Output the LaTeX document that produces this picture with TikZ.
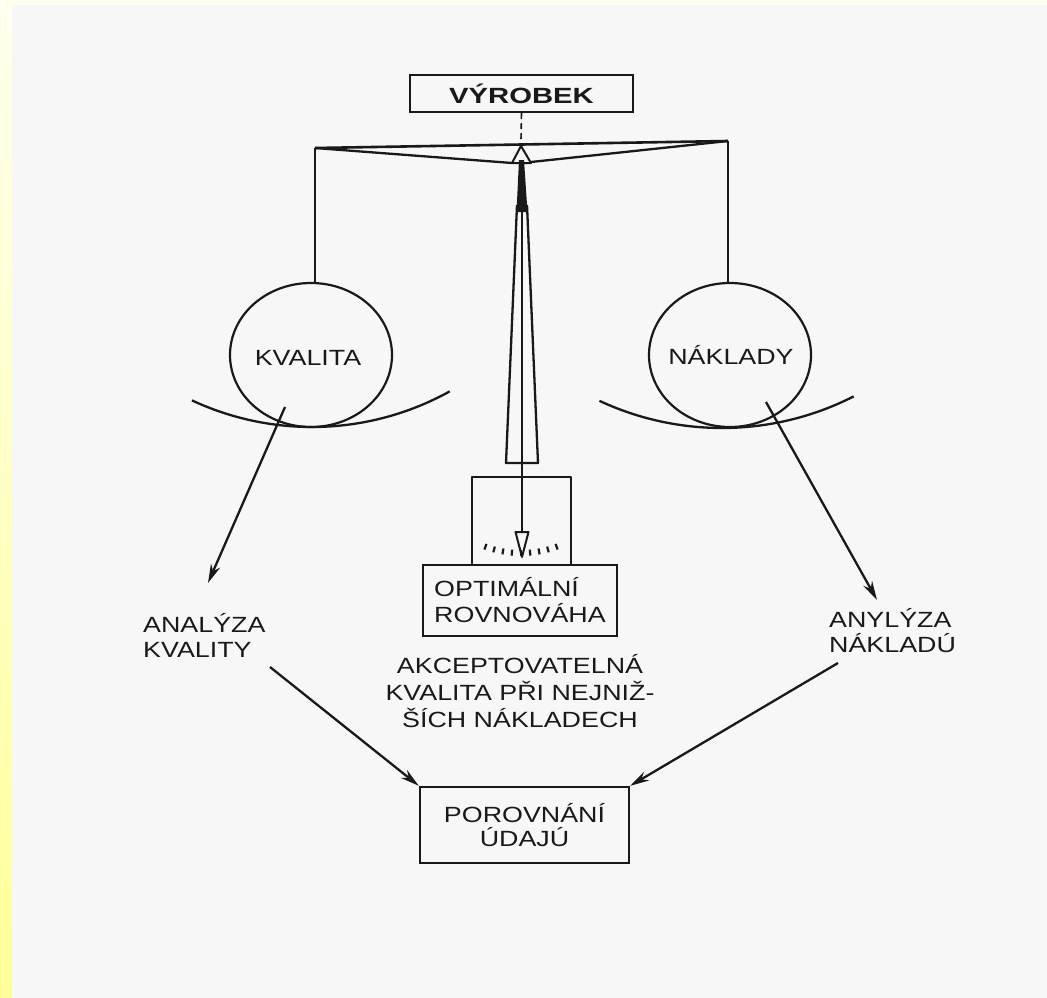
\documentclass[tikz,border=0pt]{standalone}
\usepackage{fontspec}
\usetikzlibrary{arrows.meta,shapes.geometric}
\newfontfamily\capsans[FakeStretch=1.22]{Liberation Sans}
\newfontfamily\capsansbold[FakeStretch=1.33]{Liberation Sans}
\definecolor{paper}{RGB}{247,247,247}
\definecolor{ink}{RGB}{25,25,25}
\definecolor{stripTop}{RGB}{255,255,238}
\definecolor{stripBot}{RGB}{255,255,153}
\tikzset{
  inkline/.style={draw=ink,line width=2.3pt,line join=round},
  labeltext/.style={text=ink,font=\capsans\fontsize{22}{25}\selectfont,inner sep=0pt},
  framebox/.style={draw=ink,line width=2.4pt,rectangle,inner sep=0pt,text=ink,
    font=\capsans\fontsize{22}{26}\selectfont},
  pan/.style={ellipse,draw=ink,line width=2.2pt,minimum width=162pt,minimum height=144pt,inner sep=0pt},
  flow/.style={draw=ink,line width=2.3pt,-{Stealth[length=19pt,width=10pt]}},
}
\begin{document}
\begin{tikzpicture}[x=1pt,y=-1pt]
\useasboundingbox (0,0) rectangle (1047,998);
% paper and coloured margins
\fill[paper] (0,0) rectangle (1047,998);
\fill[stripTop] (0,0) rectangle (1047,5);
\shade[top color=stripTop,bottom color=stripBot] (0,0) rectangle (12,998);

% product on the balance
\node[framebox,minimum width=223pt,minimum height=37pt,
      font=\capsansbold\bfseries\fontsize{22}{26}\selectfont] (product) at (521.5,93.5) {VÝROBEK};
\coordinate (pivot) at (521,140);
\draw[ink,line width=1.6pt,dash pattern=on 6pt off 4pt] (product.south) -- (pivot);

% pans
\node[pan] (kv) at (311,355) {};
\node[pan] (nk) at (730,355) {};
\node[labeltext,anchor=base] (kvtext) at (308,365) {KVALITA};
\node[labeltext,anchor=base] (nktext) at (731,364) {NÁKLADY};
\draw[inkline] (312,143) ++(115:284) arc[start angle=115,end angle=61,radius=284];
\draw[inkline] (722,138) ++(115:290) arc[start angle=115,end angle=63,radius=290];

% beam and hangers
\coordinate (beamL) at (315,148);
\coordinate (beamR) at (728,141);
\draw[inkline,line width=2.6pt] (beamL) -- (beamR);
\draw[inkline] (beamL) -- (512,163);
\draw[inkline] (beamR) -- (531,162);
\draw[inkline] (beamL) -- (beamL |- kv.north);
\draw[inkline] (beamR) -- (beamR |- nk.north);

% pointer
\draw[inkline,line width=2pt] (521,146) -- (512,163) -- (531,163) -- cycle;
\fill[ink] (519,160) -- (524,160) -- (527.5,212) -- (516.5,212) -- cycle;
\draw[inkline] (517,205) -- (506,463) -- (538,463) -- (527,205);
\draw[inkline] (522,205) -- (522,532);
\draw[inkline,line width=2pt,fill=paper] (515.5,532) -- (522,557) -- (528.5,532) -- cycle;

% scale housing
\draw[inkline,line width=2.4pt] (472,565) -- (472,477) -- (571,477) -- (571,565);
\foreach \a in {70,75,...,110}
  \draw[ink,line width=2.2pt] (521,449) ++(\a:101) -- ++(\a:6);
\node[framebox,minimum width=194pt,minimum height=71pt,align=left] (optimum) at (520,600.5)
  {OPTIMÁLNÍ\\ROVNOVÁHA};

% analyses and comparison
\node[labeltext,align=left,anchor=base west] (qualan) at (143,657) {ANALÝZA\\KVALITY};
\node[labeltext,align=left,anchor=base west] (costan) at (829,652) {ANYLÝZA\\NÁKLADÚ};
\node[labeltext,align=center,anchor=base,font=\capsans\fontsize{22}{27}\selectfont] (accept) at (520,727)
  {AKCEPTOVATELNÁ\\KVALITA PŘI NEJNIŽ-\\ŠÍCH NÁKLADECH};
\node[framebox,minimum width=209pt,minimum height=76pt,align=center,
      font=\capsans\fontsize{22}{24}\selectfont] (compare) at (524.5,825) {POROVNÁNÍ\\ÚDAJÚ};

\coordinate (kvout) at (285,407);
\coordinate (qualin) at (208,583);
\coordinate (nkout) at (766,402);
\coordinate (costin) at (877,600);
\coordinate (qualout) at (270,667);
\coordinate (costout) at (838,663);
\draw[flow] (kvout) -- (qualin);
\draw[flow] (nkout) -- (costin);
\draw[flow] (qualout) -- (compare.north west);
\draw[flow] (costout) -- (compare.north east);
\end{tikzpicture}
\end{document}
